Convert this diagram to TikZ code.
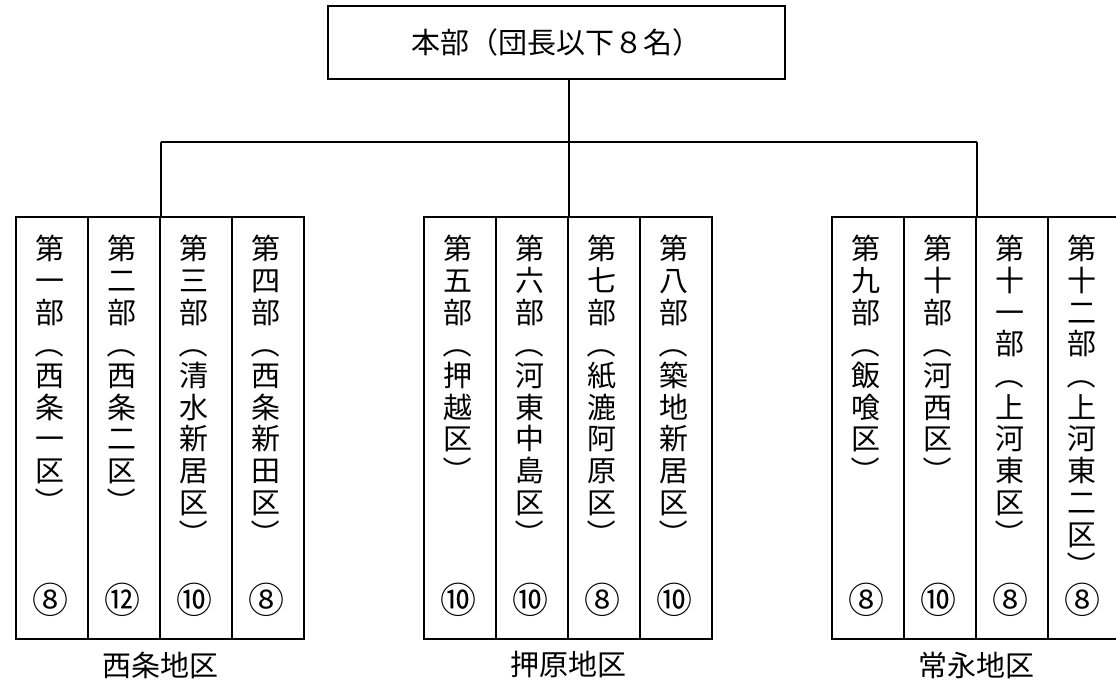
\documentclass[tikz,border=0pt]{standalone}
\usepackage{fontspec}
\usepackage{graphicx}
\newfontfamily\cjk{Noto Sans CJK JP}
\newcommand\Lp{\rotatebox[origin=c]{-90}{（}}
\newcommand\Rp{\rotatebox[origin=c]{-90}{）}}
\tikzset{
  colbox/.style={draw, line width=2pt, minimum width=72pt, minimum height=422pt, inner sep=0pt},
  vtext/.style={anchor=north, inner sep=0pt, align=center,
    font={\cjk\fontsize{29}{31.7}\selectfont\lineskiplimit=-100pt}},
  numtext/.style={inner sep=0pt, font={\cjk\fontsize{36}{38}\selectfont}},
  hqbox/.style={draw, line width=2pt, minimum width=457pt, minimum height=73pt,
    font={\cjk\fontsize{29}{31.7}\selectfont}},
  grp/.style={inner sep=0pt, font={\cjk\fontsize{29}{31.7}\selectfont}},
  conn/.style={line width=2pt}
}
\begin{document}
\begin{tikzpicture}[x=1pt,y=-1pt]
\useasboundingbox (0,0) rectangle (1116,684);
\node[hqbox] (hq) at (556,42.5) {本部（団長以下８名）};
\foreach \i/\x/\txt/\num in {
  1/52/第\\一\\部\\\Lp\\西\\条\\一\\区\\\Rp/⑧,
  2/124/第\\二\\部\\\Lp\\西\\条\\二\\区\\\Rp/⑫,
  3/196/第\\三\\部\\\Lp\\清\\水\\新\\居\\区\\\Rp/⑩,
  4/268/第\\四\\部\\\Lp\\西\\条\\新\\田\\区\\\Rp/⑧,
  5/460/第\\五\\部\\\Lp\\押\\越\\区\\\Rp/⑩,
  6/532/第\\六\\部\\\Lp\\河\\東\\中\\島\\区\\\Rp/⑩,
  7/604/第\\七\\部\\\Lp\\紙\\漉\\阿\\原\\区\\\Rp/⑧,
  8/676/第\\八\\部\\\Lp\\築\\地\\新\\居\\区\\\Rp/⑩,
  9/868/第\\九\\部\\\Lp\\飯\\喰\\区\\\Rp/⑧,
  10/940/第\\十\\部\\\Lp\\河\\西\\区\\\Rp/⑩,
  11/1012/第\\十\\一\\部\\\Lp\\上\\河\\東\\区\\\Rp/⑧,
  12/1084/第\\十\\二\\部\\\Lp\\上\\河\\東\\二\\区\\\Rp/⑧}{
  \node[colbox] (b\i) at (\x,428) {};
  \node[vtext] (t\i) at (\x-2,235) {\txt};
  \node[numtext] (n\i) at (\x-2,600) {\num};
}
\node[grp] (g1) at (160,665) {西条地区};
\node[grp] (g2) at (568,665) {押原地区};
\node[grp] (g3) at (976,665) {常永地区};
\coordinate (j) at (568,142);
\draw[conn] (hq.south -| b6.north east) -- (b6.north east);
\draw[conn] (b2.north east |- j) -- (b10.north east |- j);
\draw[conn] (b2.north east |- j) -- (b2.north east);
\draw[conn] (b10.north east |- j) -- (b10.north east);
\end{tikzpicture}
\end{document}
